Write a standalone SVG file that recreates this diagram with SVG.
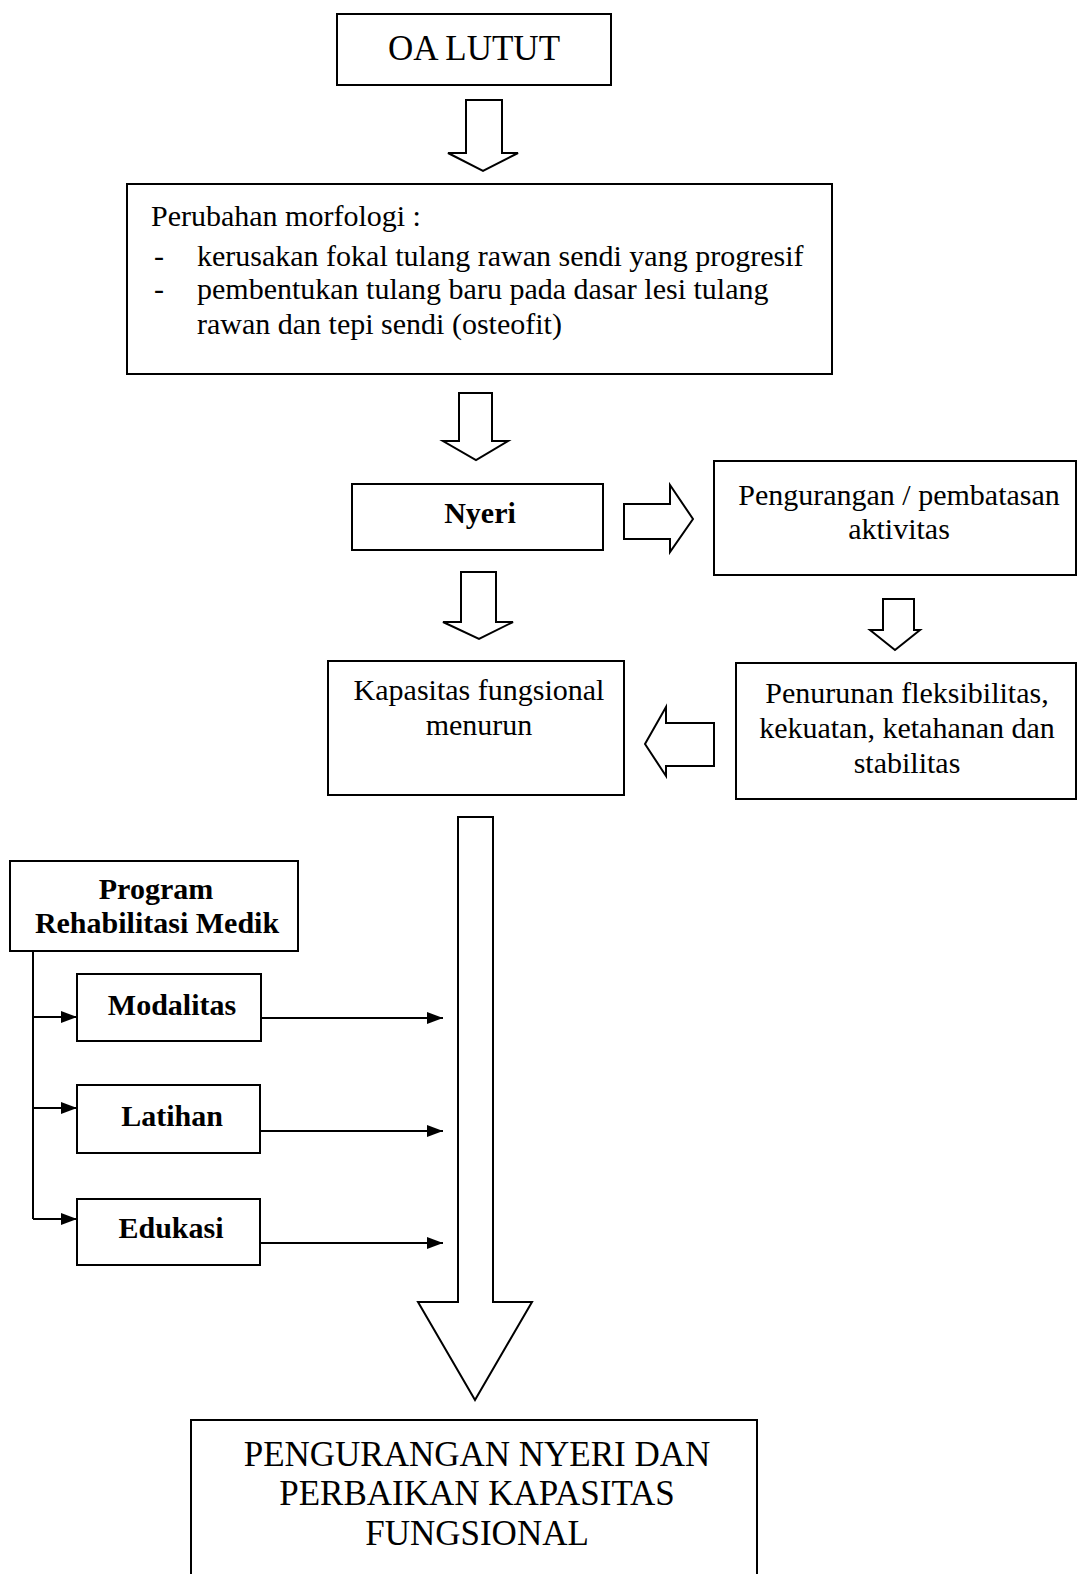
<svg xmlns="http://www.w3.org/2000/svg" width="1078" height="1574" viewBox="0 0 1078 1574">
  <style>
    .box { fill: #fff; stroke: #000; stroke-width: 2; }
    .blk { fill: #fff; stroke: #000; stroke-width: 2; stroke-linejoin: miter; }
    .ln { fill: none; stroke: #000; stroke-width: 2; }
    text { font-family: "Liberation Serif", "Times New Roman", serif; fill: #000; }
    .t { font-size: 30px; }
    .b { font-size: 30px; font-weight: bold; }
    .big { font-size: 35px; }
    .c { text-anchor: middle; }
  </style>
  <defs>
    <marker id="tri" viewBox="0 0 16 12" refX="16" refY="6" markerWidth="16" markerHeight="12" markerUnits="userSpaceOnUse" orient="auto">
      <path d="M0,0 L16,6 L0,12 Z" fill="#000"/>
    </marker>
  </defs>

  <rect width="1078" height="1574" fill="#fff"/>

  <!-- block arrows and line arrows -->
  <g id="connectors">
    <path class="blk" d="M466,100 H502 V153 H518 L483,171 L448,153 H466 Z"/>
    <path class="blk" d="M459,393 H492 V441 H508 L476,460 L443,441 H459 Z"/>
    <path class="blk" d="M624,504 H670 V485 L693,519 L670,552 V539 H624 Z"/>
    <path class="blk" d="M461,572 H496 V622 H513 L479,639 L443,622 H461 Z"/>
    <path class="blk" d="M883,599 H914 V630 H920 L895,650 L870,630 H883 Z"/>
    <path class="blk" d="M714,723 H666 V707 L645,744 L666,776 V766 H714 Z"/>
    <path class="blk" d="M458,817 H493 V1302 H532 L475,1400 L418,1302 H458 Z"/>

    <path class="ln" d="M33,951 V1219"/>
    <path class="ln" d="M33,1017 H77" marker-end="url(#tri)"/>
    <path class="ln" d="M33,1108 H77" marker-end="url(#tri)"/>
    <path class="ln" d="M33,1219 H77" marker-end="url(#tri)"/>
    <path class="ln" d="M261,1018 H443" marker-end="url(#tri)"/>
    <path class="ln" d="M260,1131 H443" marker-end="url(#tri)"/>
    <path class="ln" d="M260,1243 H443" marker-end="url(#tri)"/>
  </g>

  <g id="oa-lutut">
    <rect class="box" x="337" y="14" width="274" height="71"/>
    <text class="big c" x="474" y="60">OA LUTUT</text>
  </g>

  <g id="perubahan-morfologi">
    <rect class="box" x="127" y="184" width="705" height="190"/>
    <text class="t" x="151" y="226">Perubahan morfologi :</text>
    <text class="t" x="154" y="266">-</text>
    <text class="t" x="197" y="266">kerusakan fokal tulang rawan sendi yang progresif</text>
    <text class="t" x="154" y="299">-</text>
    <text class="t" x="197" y="299">pembentukan tulang baru pada dasar lesi tulang</text>
    <text class="t" x="197" y="334">rawan dan tepi sendi (osteofit)</text>
  </g>

  <g id="nyeri">
    <rect class="box" x="352" y="484" width="251" height="66"/>
    <text class="b c" x="480" y="523">Nyeri</text>
  </g>

  <g id="pengurangan-aktivitas">
    <rect class="box" x="714" y="461" width="362" height="114"/>
    <text class="t c" x="899" y="505">Pengurangan / pembatasan</text>
    <text class="t c" x="899" y="539">aktivitas</text>
  </g>

  <g id="kapasitas-menurun">
    <rect class="box" x="328" y="661" width="296" height="134"/>
    <text class="t c" x="479" y="700">Kapasitas fungsional</text>
    <text class="t c" x="479" y="735">menurun</text>
  </g>

  <g id="penurunan">
    <rect class="box" x="736" y="663" width="340" height="136"/>
    <text class="t c" x="907" y="703">Penurunan fleksibilitas,</text>
    <text class="t c" x="907" y="738">kekuatan, ketahanan dan</text>
    <text class="t c" x="907" y="773">stabilitas</text>
  </g>

  <g id="program-rehab">
    <rect class="box" x="10" y="861" width="288" height="90"/>
    <text class="b c" x="156" y="899">Program</text>
    <text class="b c" x="157" y="933">Rehabilitasi Medik</text>
  </g>

  <g id="modalitas">
    <rect class="box" x="77" y="974" width="184" height="67"/>
    <text class="b c" x="172" y="1015">Modalitas</text>
  </g>

  <g id="latihan">
    <rect class="box" x="77" y="1085" width="183" height="68"/>
    <text class="b c" x="172" y="1126">Latihan</text>
  </g>

  <g id="edukasi">
    <rect class="box" x="77" y="1199" width="183" height="66"/>
    <text class="b c" x="171" y="1238">Edukasi</text>
  </g>

  <g id="hasil">
    <path class="ln" d="M191,1580 V1420 H757 V1580"/>
    <text class="big c" x="477" y="1466">PENGURANGAN NYERI DAN</text>
    <text class="big c" x="477" y="1505">PERBAIKAN KAPASITAS</text>
    <text class="big c" x="477" y="1545">FUNGSIONAL</text>
  </g>
</svg>
